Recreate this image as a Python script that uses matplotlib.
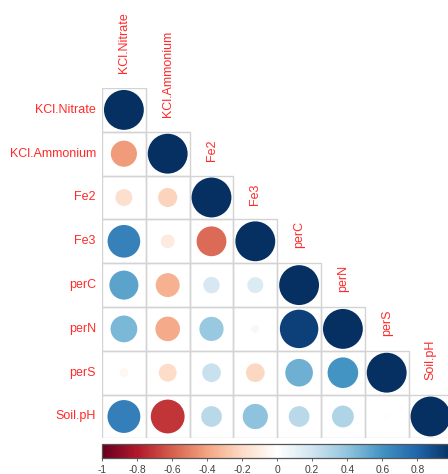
import numpy as np
import matplotlib
matplotlib.use("Agg")
import matplotlib.pyplot as plt
from matplotlib.colors import LinearSegmentedColormap, Normalize
from matplotlib.patches import Circle, Rectangle
from matplotlib.cm import ScalarMappable

plt.rcParams['font.family'] = ['Liberation Sans', 'DejaVu Sans']

variables = ['KCl.Nitrate', 'KCl.Ammonium', 'Fe2', 'Fe3',
             'perC', 'perN', 'perS', 'Soil.pH']

# lower triangle of the correlation matrix, one list per row
corr_rows = [
    [1.00],
    [-0.43, 1.00],
    [-0.18, -0.23, 1.00],
    [0.67, -0.12, -0.56, 1.00],
    [0.53, -0.36, 0.17, 0.16, 1.00],
    [0.45, -0.38, 0.37, 0.04, 0.93, 1.00],
    [-0.05, -0.20, 0.22, -0.22, 0.48, 0.59, 1.00],
    [0.68, -0.72, 0.27, 0.40, 0.27, 0.30, -0.02, 1.00],
]

cbar_ticks = [-1, -0.8, -0.6, -0.4, -0.2, 0, 0.2, 0.4, 0.6, 0.8]

# corrplot style red-blue palette
rdbu = ["#67001F", "#B2182B", "#D6604D", "#F4A582", "#FDDBC7", "#FFFFFF",
        "#D1E5F0", "#92C5DE", "#4393C3", "#2166AC", "#053061"]
cmap = LinearSegmentedColormap.from_list("corr", rdbu, N=200)
norm = Normalize(-1, 1)

W, H = 448, 474
fig = plt.figure(figsize=(W / 100, H / 100), dpi=100)

n = len(variables)
cell = 43.8
left, top = 102, 88
ax = fig.add_axes([left / W, 1 - (top + n * cell) / H, n * cell / W, n * cell / H])
ax.set_xlim(0, n)
ax.set_ylim(n, 0)
ax.set_aspect('equal')
ax.axis('off')

for i, row in enumerate(corr_rows):
    for j, r in enumerate(row):
        ax.add_patch(Rectangle((j, i), 1, 1, facecolor='none',
                               edgecolor='#D3D3D3', linewidth=1.0, zorder=1))
        ax.add_patch(Circle((j + 0.5, i + 0.5), 0.455 * np.sqrt(abs(r)),
                            facecolor=cmap(norm(r)), edgecolor='none', zorder=2))

label_color = '#FF2A2A'
for i, name in enumerate(variables):
    ax.text(-0.14, i + 0.5, name, ha='right', va='center',
            fontsize=9, color=label_color, clip_on=False)
    ax.text(i + 0.5, i - 0.34, name, ha='center', va='bottom', rotation=90,
            fontsize=9, color=label_color, clip_on=False)

# colour legend under the grid
cax = fig.add_axes([left / W, 1 - 457.5 / H, n * cell / W, 14 / H])
sm = ScalarMappable(norm=norm, cmap=cmap)
cb = fig.colorbar(sm, cax=cax, orientation='horizontal', ticks=cbar_ticks)
cb.outline.set_edgecolor('#555555')
cb.outline.set_linewidth(0.9)
cb.ax.set_xticklabels([f"{t:g}" for t in cbar_ticks])
cb.ax.tick_params(length=2.5, width=0.7, color='#666666', labelsize=7.4,
                  labelcolor='#404040', pad=3)

fig.savefig("out.png", dpi=100)
